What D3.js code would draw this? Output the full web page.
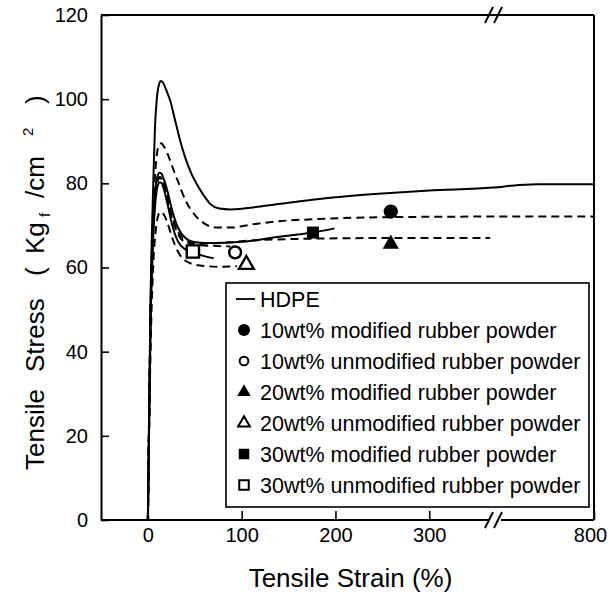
<!DOCTYPE html>
<html>
<head>
<meta charset="utf-8">
<script src="https://cdn.jsdelivr.net/npm/d3@7"></script>
<style>
  body { margin: 0; background: #fff; }
  svg text { font-family: "Liberation Sans", Arial, sans-serif; fill: #000; }
</style>
</head>
<body>
<svg width="608" height="599"></svg>
<script>
// strain (%) , stress (Kgf/cm2)
const hdpe = [[0,0],[1.5,30],[3,55],[4.5,70],[6,82],[7.5,93],[9.5,100],[12,103.6],[14,104.3],[16.5,103.8],[19,102.5],[24,99.5],[29,95],[34,90.5],[40,86],[47,82],[53,79.5],[60,77],[67,75],[76,74],[88,73.8],[120,74.5],[150,75.4],[200,76.7],[250,77.6],[300,78.3],[368,79],[480,79.6],[560,79.8],[800,79.8]];
const mod10 = [[0,0],[1.5,28],[3,52],[4.5,66],[6,75],[8,83],[10,87.5],[12.5,89.3],[14.5,89.5],[17,88.8],[21,87],[26,84],[32,80.5],[40,76],[50,72.5],[60,70.5],[73,69.5],[90,69.5],[110,70.2],[140,71],[180,71.5],[236,71.9],[368,72.1],[800,72.1]];
const mod30 = [[0,0],[1.5,27],[3,50],[4.5,63],[6,72],[8,78.5],[10,81.5],[12.5,82.5],[14.5,82.3],[17,81],[21,78],[26,73.5],[32,69.5],[40,67],[50,66],[70,65.8],[100,66.1],[140,67.3],[176,68.3],[199,69.3]];
const mod20 = [[0,0],[1.5,27],[3,50],[4.5,63],[6,71.5],[8,77.5],[10,80.5],[12.5,81.5],[14.5,81.3],[17,80],[21,76.5],[26,72],[32,68.5],[40,66.5],[50,65.6],[80,65.9],[110,66.4],[160,66.8],[260,67],[365,67]];
const unmod10 = [[0,0],[1.5,27],[3,50],[4.5,62],[6,71],[8,77],[10,80.2],[12.5,81.2],[14.5,81.1],[17,79.8],[21,76],[26,71.5],[32,68],[40,66],[55,65.3],[75,65.1],[88,65]];
const unmod30 = [[0,0],[1.5,26],[3,48],[4.5,60],[6,69],[8,75.5],[10,79],[12.5,80.2],[14.5,80.1],[17,78.6],[21,75],[26,70],[32,66.2],[40,64.3],[50,63.4],[60,62.7],[70,62.2]];
const unmod20 = [[0,0],[1.5,24],[3,42],[4.5,54],[6,62],[8,68],[10,71.5],[12.5,73],[14.5,73.2],[17,72.6],[21,70.5],[26,67],[32,63.8],[40,61.6],[55,60.5],[75,60.2],[95,60.3]];

// one marker per sample
const markerNames = ['mod10','unmod10','mod20','unmod20','mod30','unmod30'];
const markerStrain = [259, 93, 259, 105, 176, 48];
const markerStress = [73.3, 63.6, 65.6, 60.7, 68.3, 63.8];

const legendLabels = ['HDPE','10wt% modified rubber powder','10wt% unmodified rubber powder','20wt% modified rubber powder','20wt% unmodified rubber powder','30wt% modified rubber powder','30wt% unmodified rubber powder'];

const xTicks = [0, 100, 200, 300, 800];
const yTicks = [0, 20, 40, 60, 80, 100, 120];

const svg = d3.select('svg');
const margin = {left:101, top:15, right:14, bottom:79};
const width = +svg.attr('width');
const height = +svg.attr('height');

// broken axis: 368 sits at the break, the rest squeezed to 800
const xScale = d3.scaleLinear()
    .domain([-50, 368, 800])
    .range([margin.left, 493, width - margin.right]);
const yScale = d3.scaleLinear()
    .domain([0, 120])
    .range([height - margin.bottom, margin.top]);

const line = d3.line()
    .x(d => xScale(d[0]))
    .y(d => yScale(d[1]))
    .curve(d3.curveMonotoneX);

const curves = [
  {data: hdpe, dash: null},
  {data: mod10, dash: '8,5'},
  {data: mod30, dash: null},
  {data: mod20, dash: '8,5'},
  {data: unmod10, dash: '8,5'},
  {data: unmod30, dash: null},
  {data: unmod20, dash: '8,5'}
];

svg.append('g').selectAll('path').data(curves)
  .enter().append('path')
    .attr('d', d => line(d.data))
    .attr('fill', 'none')
    .attr('stroke', '#000')
    .attr('stroke-width', 2)
    .attr('stroke-dasharray', d => d.dash);

// symbols
const symType = {mod10: d3.symbolCircle, unmod10: d3.symbolCircle, mod20: d3.symbolTriangle, unmod20: d3.symbolTriangle, mod30: d3.symbolSquare, unmod30: d3.symbolSquare};
const symSize = {mod10: 160, unmod10: 110, mod20: 115, unmod20: 95, mod30: 144, unmod30: 150};
const filled = name => name.indexOf('unmod') < 0;

svg.append('g').selectAll('path').data(markerNames)
  .enter().append('path')
    .attr('transform', (d, i) => `translate(${xScale(markerStrain[i])},${yScale(markerStress[i])})`)
    .attr('d', d => d3.symbol(symType[d], symSize[d])())
    .attr('fill', d => filled(d) ? '#000' : '#fff')
    .attr('stroke', '#000')
    .attr('stroke-width', d => filled(d) ? 0 : 2.4);

// axes
const yAxis = svg.append('g')
    .attr('transform', `translate(${margin.left},0)`)
    .call(d3.axisLeft(yScale).tickValues(yTicks).tickSizeInner(-8).tickSizeOuter(0).tickPadding(13));
const xAxis = svg.append('g')
    .attr('transform', `translate(0,${yScale(0)})`)
    .call(d3.axisBottom(xScale).tickValues(xTicks).tickSizeInner(-9).tickSizeOuter(0).tickPadding(8));
xAxis.select('.domain').remove();
[yAxis, xAxis].forEach(a => {
  a.selectAll('text').style('font-size', '20px').attr('fill', '#000');
  a.selectAll('line').attr('stroke', '#000').attr('stroke-width', 1.6);
  a.selectAll('.domain').attr('stroke', '#000').attr('stroke-width', 2);
});
xAxis.selectAll('.tick').filter(d => d === 800).select('text').attr('dx', -4);

// frame, with the gap on the bottom line
const frame = svg.append('g').attr('stroke', '#000').attr('stroke-width', 2).attr('fill', 'none');
const xb = xScale(368), y0 = yScale(0), y1 = yScale(120);
frame.append('line').attr('x1', xScale(-50)).attr('x2', xb - 4).attr('y1', y0).attr('y2', y0);
frame.append('line').attr('x1', xb + 8).attr('x2', xScale(800)).attr('y1', y0).attr('y2', y0);
frame.append('line').attr('x1', xScale(-50)).attr('x2', xScale(800)).attr('y1', y1).attr('y2', y1);
frame.append('line').attr('x1', xScale(800)).attr('x2', xScale(800)).attr('y1', y0).attr('y2', y1);

// break marks
[y1, y0].forEach(yy => {
  [-4, 5].forEach(off => {
    frame.append('line')
      .attr('x1', xb + off - 4).attr('y1', yy + 8)
      .attr('x2', xb + off + 4).attr('y2', yy - 8);
  });
});

// legend
const legend = svg.append('g').attr('transform', 'translate(226,283)');
legend.append('rect').attr('width', 363).attr('height', 224)
  .attr('fill', '#fff').attr('stroke', '#000').attr('stroke-width', 1.6);
const rows = legend.selectAll('g.row').data(legendLabels)
  .enter().append('g').attr('class', 'row')
  .attr('transform', (d, i) => `translate(0,${16 + i * 31})`);
rows.append('text').attr('x', 34).attr('dy', '0.36em')
  .style('font-size', '21.5px').text(d => d);
rows.filter((d, i) => i === 0).append('line')
  .attr('x1', 10).attr('x2', 29).attr('stroke', '#000').attr('stroke-width', 1.8);
const legSize = {mod10: 115, unmod10: 60, mod20: 80, unmod20: 60, mod30: 110, unmod30: 90};
rows.filter((d, i) => i > 0).append('path')
  .attr('transform', 'translate(18,0)')
  .attr('d', (d, i) => d3.symbol(symType[markerNames[i]], legSize[markerNames[i]])())
  .attr('fill', (d, i) => filled(markerNames[i]) ? '#000' : '#fff')
  .attr('stroke', '#000')
  .attr('stroke-width', (d, i) => filled(markerNames[i]) ? 0 : 2);

// axis titles
svg.append('text')
  .attr('x', (xScale(-50) + xScale(800)) / 2 + 3).attr('y', 587)
  .attr('text-anchor', 'middle').style('font-size', '26px')
  .text('Tensile Strain (%)');

// y title pieces laid out along the rotated baseline
const yTitleParts = [
  {t: 'Tensile', at: 0, dy: 0, size: 26},
  {t: 'Stress', at: 98, dy: 0, size: 26},
  {t: '(', at: 194, dy: 0, size: 26},
  {t: 'Kg', at: 216, dy: 0, size: 26},
  {t: 'f', at: 253, dy: 6, size: 15},
  {t: '/cm', at: 272, dy: 0, size: 26},
  {t: '2', at: 334, dy: -11, size: 15},
  {t: ')', at: 366, dy: 0, size: 26}
];
svg.append('g')
  .attr('transform', 'translate(44,470) rotate(-90)')
  .selectAll('text').data(yTitleParts)
  .enter().append('text')
    .attr('x', d => d.at).attr('y', d => d.dy)
    .style('font-size', d => d.size + 'px')
    .text(d => d.t);
</script>
</body>
</html>
